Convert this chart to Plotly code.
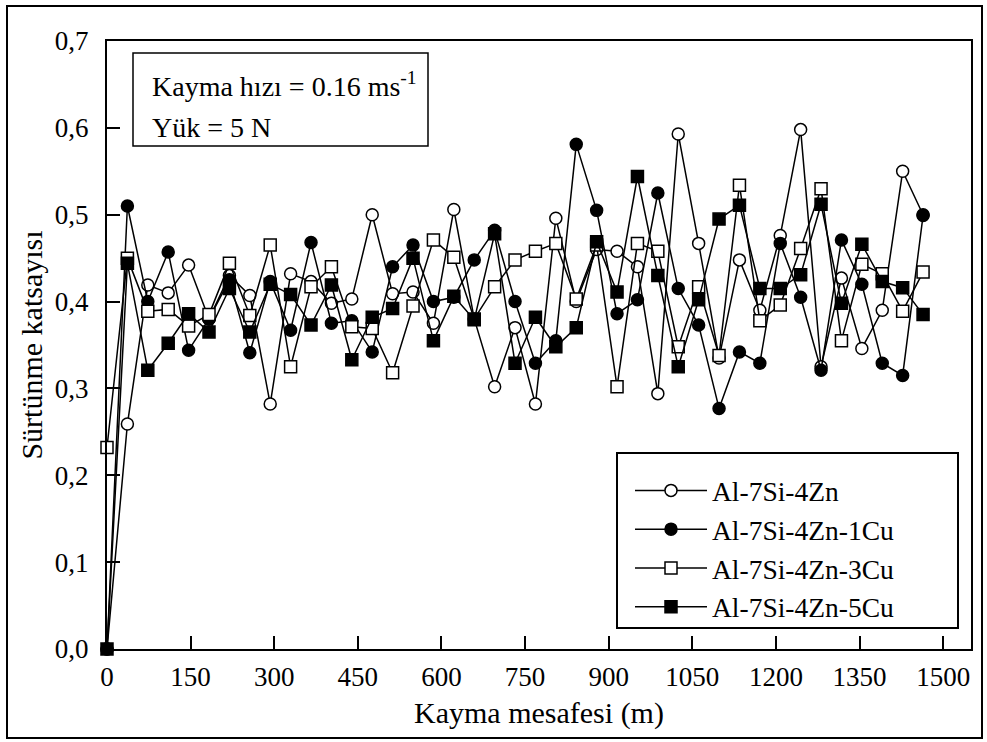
import plotly.graph_objects as go

# Sliding distance (m)
distance = [0, 36.6, 73.2, 109.8, 146.4, 183.0, 219.6, 256.2, 292.8, 329.4,
            366.0, 402.6, 439.2, 475.8, 512.4, 549.0, 585.6, 622.2, 658.8, 695.4,
            732.0, 768.6, 805.2, 841.8, 878.4, 915.0, 951.6, 988.2, 1024.8, 1061.4,
            1098.0, 1134.6, 1171.2, 1207.8, 1244.4, 1281.0, 1317.6, 1354.2, 1390.8,
            1427.4, 1464.0]

al_7si_4zn = [0.0, 0.259, 0.419, 0.410, 0.442, 0.380, 0.430, 0.407, 0.282, 0.432,
              0.423, 0.398, 0.403, 0.500, 0.409, 0.411, 0.375, 0.506, 0.380, 0.302,
              0.370, 0.282, 0.496, 0.400, 0.460, 0.458, 0.440, 0.294, 0.593, 0.467,
              0.335, 0.448, 0.390, 0.476, 0.598, 0.325, 0.427, 0.346, 0.390, 0.550,
              0.500]

al_7si_4zn_1cu = [0.0, 0.510, 0.400, 0.457, 0.344, 0.380, 0.425, 0.341, 0.423, 0.367,
                  0.468, 0.375, 0.378, 0.342, 0.440, 0.465, 0.400, 0.405, 0.448, 0.482,
                  0.400, 0.329, 0.355, 0.581, 0.505, 0.386, 0.402, 0.525, 0.415, 0.373,
                  0.277, 0.342, 0.329, 0.467, 0.405, 0.321, 0.471, 0.420, 0.329, 0.315,
                  0.499]

al_7si_4zn_3cu = [0.232, 0.450, 0.389, 0.391, 0.372, 0.385, 0.444, 0.384, 0.465, 0.325,
                  0.417, 0.440, 0.371, 0.369, 0.318, 0.395, 0.471, 0.451, 0.380, 0.417,
                  0.448, 0.458, 0.467, 0.403, 0.465, 0.302, 0.467, 0.458, 0.348, 0.417,
                  0.338, 0.534, 0.378, 0.396, 0.461, 0.530, 0.355, 0.443, 0.432, 0.389,
                  0.434]

al_7si_4zn_5cu = [0.0, 0.444, 0.321, 0.352, 0.386, 0.365, 0.415, 0.365, 0.420, 0.408,
                  0.373, 0.419, 0.333, 0.382, 0.392, 0.450, 0.355, 0.406, 0.379, 0.478,
                  0.329, 0.382, 0.348, 0.370, 0.469, 0.411, 0.544, 0.430, 0.325, 0.402,
                  0.495, 0.511, 0.415, 0.415, 0.431, 0.512, 0.398, 0.466, 0.423, 0.416,
                  0.385]

series_names = ["Al-7Si-4Zn", "Al-7Si-4Zn-1Cu", "Al-7Si-4Zn-3Cu", "Al-7Si-4Zn-5Cu"]
series_values = [al_7si_4zn, al_7si_4zn_1cu, al_7si_4zn_3cu, al_7si_4zn_5cu]
series_symbols = ["circle", "circle", "square", "square"]
series_fills = ["white", "black", "white", "black"]

x_ticks = [0, 150, 300, 450, 600, 750, 900, 1050, 1200, 1350, 1500]
y_ticks = [0.0, 0.1, 0.2, 0.3, 0.4, 0.5, 0.6, 0.7]

FONT = "Liberation Serif, Times New Roman, serif"

fig = go.Figure()
for name, vals, sym, fill in zip(series_names, series_values, series_symbols, series_fills):
    fig.add_trace(go.Scatter(
        x=distance, y=vals, name=name, mode="lines+markers", cliponaxis=False,
        line=dict(color="black", width=1.5),
        marker=dict(symbol=sym, size=12, color=fill,
                    line=dict(color="black", width=1.5)),
    ))

# plot area geometry (pixels)
L, R, T, B = 107, 16, 41, 93
W = 987 - L - R
H = 742 - T - B


def xp(px):
    return (px - L) / W


def yp(py):
    return (742 - B - py) / H


shapes = [
    # outer figure frame
    dict(type="rect", xref="paper", yref="paper", x0=xp(7), x1=xp(982),
         y0=yp(738), y1=yp(6), line=dict(color="black", width=2)),
    # conditions box
    dict(type="rect", xref="paper", yref="paper", x0=xp(133), x1=xp(428),
         y0=yp(146), y1=yp(53), line=dict(color="black", width=1.5),
         fillcolor="white"),
    # legend box
    dict(type="rect", xref="paper", yref="paper", x0=xp(617), x1=xp(958),
         y0=yp(628), y1=yp(453), line=dict(color="black", width=2),
         fillcolor="white", layer="below"),
]

annotations = [
    dict(xref="paper", yref="paper", x=xp(150), y=yp(85), xanchor="left",
         yanchor="middle", showarrow=False, text="Kayma hızı = 0.16 ms<sup>-1</sup>",
         font=dict(size=28)),
    dict(xref="paper", yref="paper", x=xp(150), y=yp(128), xanchor="left",
         yanchor="middle", showarrow=False, text="Yük = 5 N", font=dict(size=28)),
]

fig.update_layout(
    width=987, height=742,
    margin=dict(l=L, r=R, t=T, b=B, pad=0),
    paper_bgcolor="white", plot_bgcolor="white",
    separators=",.",
    font=dict(family=FONT, size=27, color="black"),
    showlegend=True,
    legend=dict(x=xp(630), y=yp(466), xanchor="left", yanchor="top",
                bgcolor="rgba(0,0,0,0)", borderwidth=0, font=dict(size=27.5),
                itemwidth=72, tracegroupgap=0),
    shapes=shapes,
    annotations=annotations,
)

fig.update_xaxes(
    range=[0, 1550], tickvals=x_ticks, tickformat="d",
    ticks="inside", ticklen=13, tickwidth=1.5, tickcolor="black",
    ticklabelstandoff=3,
    showline=True, linewidth=2, linecolor="black", mirror=True,
    showgrid=False, zeroline=False,
    title=dict(text="Kayma mesafesi (m)", standoff=11, font=dict(size=30)),
)
fig.update_yaxes(
    range=[0, 0.7], tickvals=y_ticks, tickformat=".1f",
    ticks="inside", ticklen=13, tickwidth=1.5, tickcolor="black",
    ticklabelstandoff=11,
    showline=True, linewidth=2, linecolor="black", mirror=True,
    showgrid=False, zeroline=False,
    title=dict(text="Sürtünme katsayısı", standoff=3, font=dict(size=30)),
)

fig.write_html("out.html")
